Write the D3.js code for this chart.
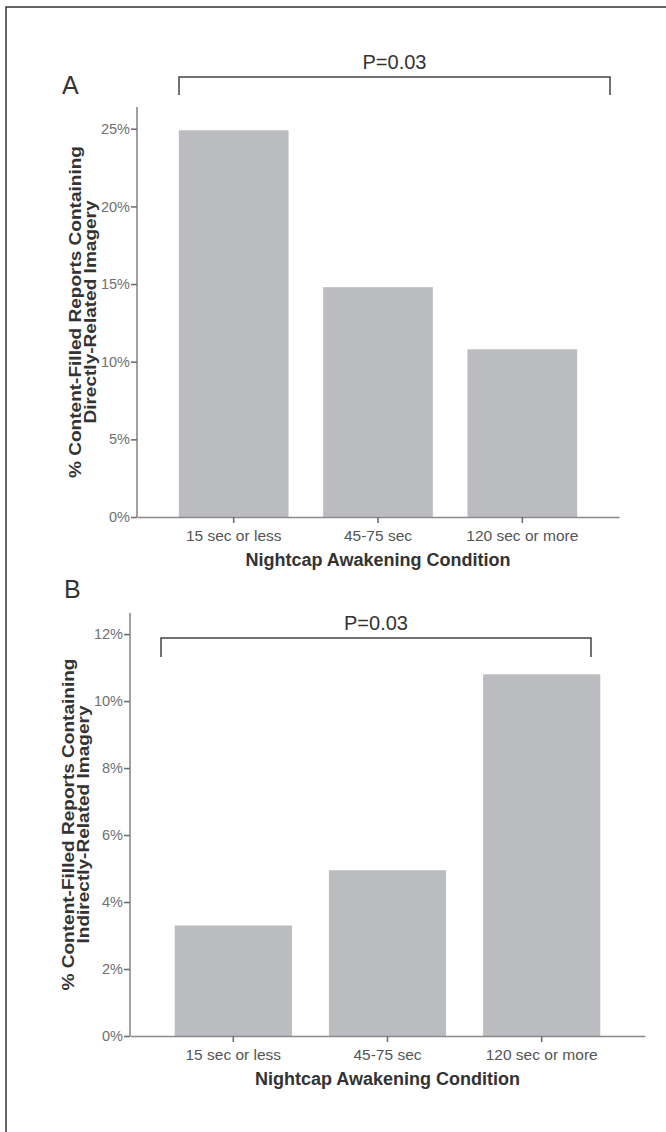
<!DOCTYPE html>
<html>
<head>
<meta charset="utf-8">
<script src="https://cdn.jsdelivr.net/npm/d3@7"></script>
<style>
  body { margin: 0; background: #fff; }
  svg { display: block; font-family: "Liberation Sans", Arial, sans-serif; }
</style>
</head>
<body>
<div class="board"></div>
<script>
var categories = ['15 sec or less', '45-75 sec', '120 sec or more'];
var directValues = [24.9, 14.8, 10.8];
var indirectValues = [3.3, 4.95, 10.8];
var directTicks = [0, 5, 10, 15, 20, 25];
var indirectTicks = [0, 2, 4, 6, 8, 10, 12];
var pLabel = 'P=0.03';
var xTitle = 'Nightcap Awakening Condition';

var svg = d3.select('.board').append('svg')
  .attr('width', 666)
  .attr('height', 1132);

// outer frame (runs off the right and bottom of the picture)
svg.append('rect')
  .attr('x', 6).attr('y', 7)
  .attr('width', 700).attr('height', 1200)
  .attr('fill', 'none')
  .attr('stroke', '#333')
  .attr('stroke-width', 1.5);

var drawPanel = function(p) {
  var x = d3.scaleBand()
    .domain(categories)
    .range([p.left, p.right])
    .paddingInner(0.24)
    .paddingOuter(0.29);

  var y = d3.scaleLinear()
    .domain([0, p.yMax])
    .range([p.bottom, p.top]);

  var g = svg.append('g');

  // bars
  g.selectAll('.bar').data(p.values).enter().append('rect')
    .attr('class', 'bar')
    .attr('x', function(d, i) { return x(categories[i]); })
    .attr('y', function(d) { return y(d); })
    .attr('width', x.bandwidth())
    .attr('height', function(d) { return y(0) - y(d); })
    .attr('fill', '#bbbcc0');

  // y axis
  var yAxis = g.append('g')
    .attr('transform', 'translate(' + p.left + ',0)')
    .call(d3.axisLeft(y).tickValues(p.ticks).tickSize(6).tickPadding(1)
      .tickFormat(function(d) { return d + '%'; }));
  yAxis.select('.domain').attr('d', 'M0,' + p.top + 'V' + p.bottom);

  // x axis
  var xAxis = g.append('g')
    .attr('transform', 'translate(0,' + p.bottom + ')')
    .call(d3.axisBottom(x).tickSize(6).tickPadding(7).tickSizeOuter(0));

  [yAxis, xAxis].forEach(function(a) {
    a.select('.domain').attr('stroke', '#8a8a8a').attr('stroke-width', 1.6);
    a.selectAll('.tick line').attr('stroke', '#707070').attr('stroke-width', 1.6);
    a.selectAll('.tick text')
      .style('font-family', '"Liberation Sans", Arial, sans-serif');
  });
  yAxis.selectAll('.tick text').attr('fill', '#707070').style('font-size', '14.5px');
  xAxis.selectAll('.tick text').attr('fill', '#555').style('font-size', '15.5px');

  // x title
  g.append('text')
    .attr('x', (p.left + p.right) / 2)
    .attr('y', p.bottom + 49)
    .attr('text-anchor', 'middle')
    .attr('fill', '#333')
    .style('font-size', '18px')
    .style('font-weight', 'bold')
    .text(xTitle);

  // y title, two lines, stretched along the axis like the original
  var yt = g.append('text')
    .attr('transform', 'translate(' + p.yTitleX + ',' + (p.top + p.bottom) / 2 + ') rotate(-90) scale(1.19,1)')
    .attr('text-anchor', 'middle')
    .attr('fill', '#333')
    .style('font-size', '16px')
    .style('font-weight', 'bold');
  p.yTitle.forEach(function(line, i) {
    yt.append('tspan').attr('x', 0).attr('dy', i === 0 ? 0 : 15).text(line);
  });

  // significance bracket
  g.append('path')
    .attr('d', 'M' + p.bracket[0] + ',' + p.bracketY[1] + 'V' + p.bracketY[0] +
      'H' + p.bracket[1] + 'V' + p.bracketY[1])
    .attr('fill', 'none')
    .attr('stroke', '#444')
    .attr('stroke-width', 1.5);

  g.append('text')
    .attr('x', (p.bracket[0] + p.bracket[1]) / 2)
    .attr('y', p.bracketY[0] - 8)
    .attr('text-anchor', 'middle')
    .attr('fill', '#333')
    .style('font-size', '20px')
    .text(pLabel);

  // panel letter
  g.append('text')
    .attr('x', p.letterPos[0])
    .attr('y', p.letterPos[1])
    .attr('fill', '#333')
    .style('font-size', '25px')
    .text(p.letter);
};

drawPanel({
  letter: 'A', letterPos: [62, 94],
  values: directValues, ticks: directTicks, yMax: 26.4,
  left: 137, right: 619, top: 107, bottom: 517,
  yTitle: ['% Content-Filled Reports Containing', 'Directly-Related Imagery'],
  yTitleX: 81,
  bracket: [179, 610], bracketY: [77, 95]
});

drawPanel({
  letter: 'B', letterPos: [64, 598],
  values: indirectValues, ticks: indirectTicks, yMax: 12.63,
  left: 130, right: 645, top: 613, bottom: 1036,
  yTitle: ['% Content-Filled Reports Containing', 'Indirectly-Related Imagery'],
  yTitleX: 74,
  bracket: [161, 591], bracketY: [638, 657]
});
</script>
</body>
</html>
